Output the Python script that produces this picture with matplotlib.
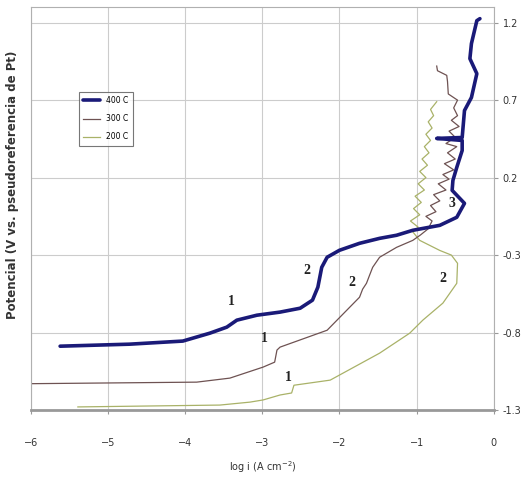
import matplotlib.pyplot as plt

# polarisation curves, log i vs potential, three temperatures
x400 = [-5.62, -4.72, -4.03, -3.68, -3.46, -3.33, -3.07, -2.77, -2.51, -2.35, -2.28, -2.23, -2.16,
        -2.0, -1.74, -1.48, -1.26, -1.05, -0.70, -0.48, -0.38, -0.54, -0.53, -0.48, -0.41, -0.41,
        -0.74, -0.41, -0.38, -0.29, -0.22, -0.31, -0.29, -0.22, -0.18]
y400 = [-0.888, -0.875, -0.855, -0.804, -0.765, -0.72, -0.688, -0.668, -0.643, -0.591, -0.507, -0.379,
        -0.314, -0.269, -0.224, -0.192, -0.172, -0.14, -0.108, -0.056, 0.034, 0.118, 0.182, 0.266,
        0.375, 0.44, 0.453, 0.459, 0.633, 0.717, 0.871, 0.968, 1.065, 1.213, 1.226]

x300 = [-6.0, -3.85, -3.42, -2.99, -2.84, -2.81, -2.77, -2.16, -1.74, -1.70, -1.65, -1.61, -1.57,
        -1.48, -1.26, -1.05, -0.95, -0.85, -0.80, -0.88, -0.75, -0.82, -0.70, -0.78, -0.62, -0.72,
        -0.58, -0.66, -0.52, -0.64, -0.50, -0.60, -0.48, -0.62, -0.50, -0.58, -0.45, -0.55, -0.47,
        -0.52, -0.47, -0.53, -0.59, -0.60, -0.61, -0.73, -0.74]
y300 = [-1.13, -1.12, -1.094, -1.023, -0.991, -0.913, -0.894, -0.785, -0.572, -0.52, -0.482, -0.43,
        -0.379, -0.314, -0.25, -0.205, -0.17, -0.13, -0.08, -0.05, -0.02, 0.02, 0.05, 0.09, 0.12,
        0.16, 0.19, 0.22, 0.25, 0.29, 0.32, 0.36, 0.40, 0.42, 0.46, 0.50, 0.53, 0.57, 0.60, 0.65,
        0.70, 0.72, 0.74, 0.82, 0.86, 0.89, 0.92]

x200 = [-5.39, -3.55, -3.16, -2.99, -2.77, -2.62, -2.59, -2.12, -1.48, -1.09, -0.92, -0.66, -0.48,
        -0.47, -0.55, -0.70, -0.82, -0.96, -1.05, -0.98, -1.08, -0.96, -1.04, -0.94, -1.02, -0.90,
        -0.98, -0.88, -0.96, -0.86, -0.93, -0.84, -0.90, -0.82, -0.88, -0.80, -0.85, -0.78, -0.82,
        -0.74]
y200 = [-1.28, -1.268, -1.249, -1.235, -1.203, -1.19, -1.14, -1.107, -0.933, -0.804, -0.72, -0.61,
        -0.482, -0.353, -0.30, -0.27, -0.24, -0.205, -0.15, -0.12, -0.08, -0.04, 0.0, 0.04, 0.08,
        0.12, 0.16, 0.20, 0.24, 0.28, 0.32, 0.36, 0.40, 0.44, 0.48, 0.52, 0.56, 0.60, 0.64, 0.69]

# region numbers written on the curves
tags = ['1', '2', '1', '2', '1', '2', '3']
tag_x = [-3.40, -2.42, -2.97, -1.84, -2.66, -0.66, -0.54]
tag_y = [-0.60, -0.40, -0.84, -0.48, -1.09, -0.45, 0.03]

xticks = [-6, -5, -4, -3, -2, -1, 0]
yticks = [-1.3, -0.8, -0.3, 0.2, 0.7, 1.2]

fig = plt.figure(figsize=(5.22, 4.79), dpi=100)
ax = fig.add_axes([0.059, 0.144, 0.887, 0.841])

ax.plot(x200, y200, color='#a9b268', lw=0.9, label='200 C')
ax.plot(x300, y300, color='#6e5252', lw=0.9, label='300 C')
ax.plot(x400, y400, color='#1a1a78', lw=2.6, label='400 C', solid_capstyle='round')

for t, tx, ty in zip(tags, tag_x, tag_y):
    ax.text(tx, ty, t, fontsize=10, fontweight='bold', family='Liberation Serif',
            ha='center', va='center', color='#222222')

ax.set_xlim(-6, 0)
ax.set_ylim(-1.3, 1.3)
ax.set_xticks(xticks)
ax.set_yticks(yticks)
ax.set_yticklabels([str(v) for v in yticks])
ax.yaxis.tick_right()
ax.tick_params(labelsize=7, length=3, color='#999999', labelcolor='#333333')
ax.tick_params(axis='x', pad=17)
ax.grid(True, color='#cccccc', lw=0.8)
for s in ax.spines.values():
    s.set_color('#b0b0b0')
ax.spines['bottom'].set_linewidth(2)
ax.spines['bottom'].set_color('#999999')

ax.set_xlabel('log i (A cm$^{-2}$)', fontsize=7, color='#333333', labelpad=8)
ax.set_ylabel('Potencial (V vs. pseudoreferencia de Pt)', fontsize=8.5, fontweight='bold',
              color='#333333')
ax.yaxis.set_label_coords(-0.026, 0.56)

h, l = ax.get_legend_handles_labels()
leg = ax.legend(h[::-1], l[::-1], loc='upper left', bbox_to_anchor=(0.095, 0.80),
                fontsize=5.5, frameon=True, fancybox=False, handlelength=2.2,
                borderpad=0.6, labelspacing=1.2)
leg.get_frame().set_edgecolor('#555555')
leg.get_frame().set_linewidth(0.8)

fig.savefig('out.png', dpi=100)
